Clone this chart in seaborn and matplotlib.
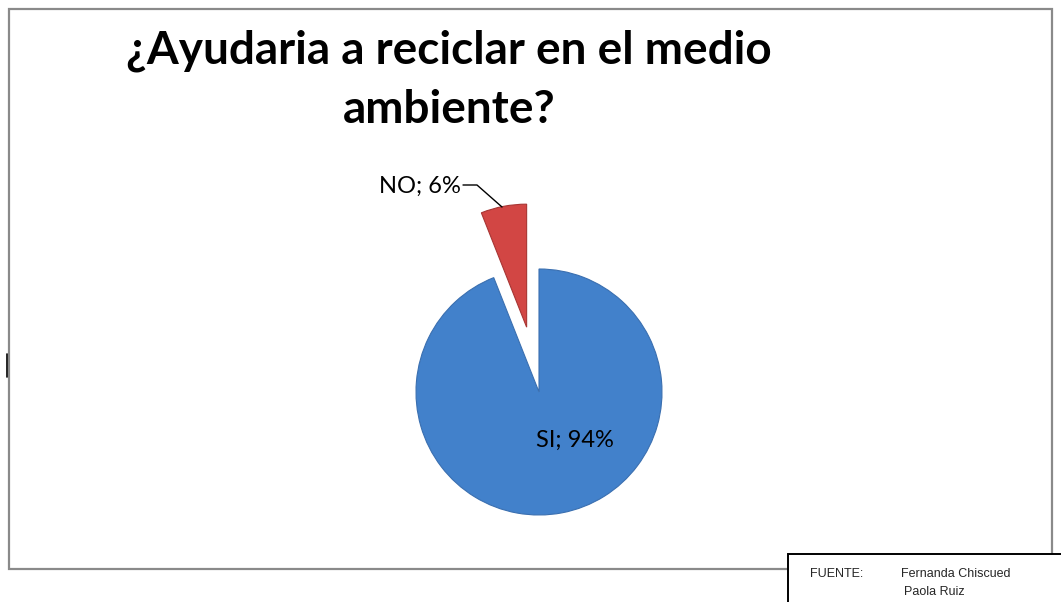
import matplotlib
matplotlib.use('Agg')
import matplotlib.pyplot as plt
import seaborn as sns
from matplotlib.patches import Rectangle

# datos de la encuesta
categorias = ['SI', 'NO']
porcentajes = [94, 6]
colores = ['#4281CB', '#D24644']
titulo = '¿Ayudaria a reciclar en el medio\nambiente?'
fuente_autores = ['Fernanda Chiscued', 'Paola Ruiz']

sns.set_theme(style='white')
plt.rcParams['font.family'] = ['Lato', 'DejaVu Sans']

W, H = 1061, 602
fig = plt.figure(figsize=(W / 100, H / 100), dpi=100)
ax = fig.add_axes([0, 0, 1, 1])

def py(y):  # pixel y (desde arriba) -> coordenada de datos
    return H - y

# pastel (NO separado) - explode va en unidades de datos
wedges, _ = ax.pie(porcentajes, center=(539, py(392)), radius=123,
                   explode=[0, 66], startangle=90, counterclock=False,
                   colors=colores, frame=True,
                   wedgeprops=dict(edgecolor='#3A6FB0', linewidth=0.8))
wedges[1].set_edgecolor('#A83533')

ax.set_xlim(0, W)
ax.set_ylim(0, H)
ax.set_aspect('equal')
ax.axis('off')

# etiquetas
ax.text(575, py(440), f'{categorias[0]}; {porcentajes[0]}%', fontsize=17,
        ha='center', va='center', color='black')
ax.text(461, py(186), f'{categorias[1]}; {porcentajes[1]}%', fontsize=17,
        ha='right', va='center', color='black')
ax.plot([463, 477, 502], [py(185), py(185), py(207)], color='black', lw=1)

# titulo
ax.text(449, py(80), titulo, fontsize=33, fontweight='bold', ha='center',
        va='center', linespacing=1.5, color='black')

# borde del grafico
ax.add_patch(Rectangle((9, py(569)), 1052 - 9, 569 - 9, fill=False,
                       edgecolor='#8A8A8A', lw=1.6))
ax.plot([6.5, 6.5], [py(354), py(377)], color='black', lw=1.2)

# cuadro de fuente
ax.add_patch(Rectangle((788, py(610)), 300, 610 - 554, facecolor='white',
                       edgecolor='black', lw=1.4, zorder=5))
ax.text(810, py(574), 'FUENTE:', fontsize=9, family='Liberation Sans',
        ha='left', va='center', zorder=6)
ax.text(901, py(574), fuente_autores[0], fontsize=9, family='Liberation Sans',
        ha='left', va='center', zorder=6)
ax.text(904, py(592), fuente_autores[1], fontsize=9, family='Liberation Sans',
        ha='left', va='center', zorder=6)

fig.savefig('out.png', dpi=100)
